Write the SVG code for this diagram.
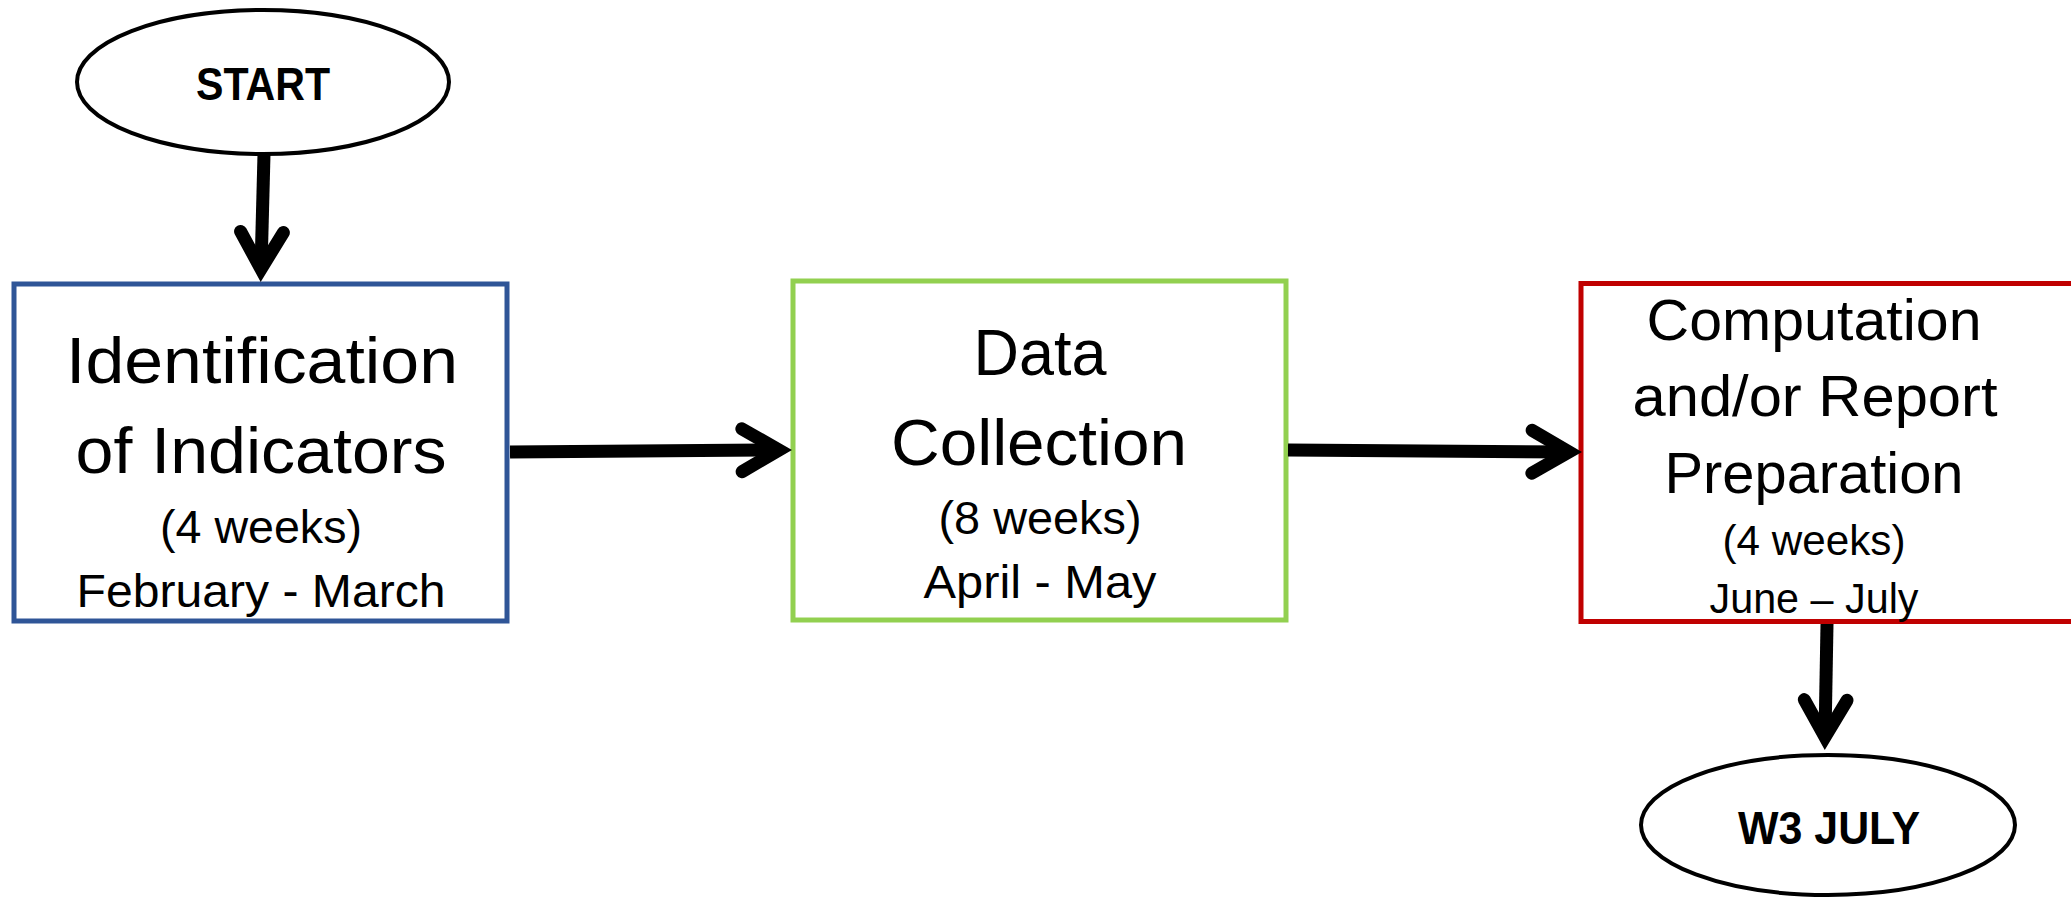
<svg xmlns="http://www.w3.org/2000/svg" width="2071" height="899" viewBox="0 0 2071 899">
<style>
.t{font-family:"Liberation Sans",Arial,sans-serif;fill:#000;text-anchor:middle}
.big{font-size:64px}
.sm{font-size:47px}
.big3{font-size:57px}
.sm3{font-size:42px}
.b{font-size:46px;font-weight:bold}
.term{fill:#fff;stroke:#000;stroke-width:4}
.box{fill:#fff;stroke-width:5}
.conn{fill:none;stroke:#000;stroke-width:13;stroke-linecap:butt}
</style>
<defs>
<marker id="chev" markerUnits="userSpaceOnUse" viewBox="-60 -30 90 60" refX="0" refY="0" markerWidth="90" markerHeight="60" orient="auto" overflow="visible">
<path d="M-37,-21.4 L0,0 L-37,21.4" fill="none" stroke="#000" stroke-width="13" stroke-linecap="round" stroke-linejoin="miter"/>
</marker>
</defs>
<rect width="2071" height="899" fill="#fff"/>
<g id="start">
<ellipse class="term" cx="263" cy="82" rx="186" ry="72"/>
<text class="t b" x="263" y="100" textLength="134" lengthAdjust="spacingAndGlyphs">START</text>
</g>
<g id="identification">
<rect class="box" x="14" y="284" width="493" height="337" stroke="#2F5597"/>
<text class="t big" x="262" y="383" textLength="392" lengthAdjust="spacingAndGlyphs">Identification</text>
<text class="t big" x="261" y="473" textLength="371" lengthAdjust="spacingAndGlyphs">of Indicators</text>
<text class="t sm" x="261" y="543" textLength="202" lengthAdjust="spacingAndGlyphs">(4 weeks)</text>
<text class="t sm" x="261" y="607" textLength="369" lengthAdjust="spacingAndGlyphs">February - March</text>
</g>
<g id="data-collection">
<rect class="box" x="793" y="281" width="493" height="339" stroke="#92D050"/>
<text class="t big" x="1040" y="375" textLength="133" lengthAdjust="spacingAndGlyphs">Data</text>
<text class="t big" x="1039" y="465" textLength="296" lengthAdjust="spacingAndGlyphs">Collection</text>
<text class="t sm" x="1040" y="534" textLength="203" lengthAdjust="spacingAndGlyphs">(8 weeks)</text>
<text class="t sm" x="1040" y="598" textLength="233" lengthAdjust="spacingAndGlyphs">April - May</text>
</g>
<g id="computation">
<rect class="box" x="1581" y="283.5" width="600" height="338" stroke="#C00000"/>
<text class="t big3" x="1814" y="340" textLength="335" lengthAdjust="spacingAndGlyphs">Computation</text>
<text class="t big3" x="1815" y="416" textLength="365" lengthAdjust="spacingAndGlyphs">and/or Report</text>
<text class="t big3" x="1814" y="493" textLength="299" lengthAdjust="spacingAndGlyphs">Preparation</text>
<text class="t sm3" x="1814" y="555" textLength="183" lengthAdjust="spacingAndGlyphs">(4 weeks)</text>
<text class="t sm3" x="1814" y="613" textLength="209" lengthAdjust="spacingAndGlyphs">June – July</text>
</g>
<g id="end">
<ellipse class="term" cx="1828" cy="825" rx="187" ry="70"/>
<text class="t b" x="1829" y="844" textLength="182" lengthAdjust="spacingAndGlyphs">W3 JULY</text>
</g>
<g id="connectors">
<path class="conn" d="M264,154 L261,269" marker-end="url(#chev)"/>
<path class="conn" d="M510,452 L779,450" marker-end="url(#chev)"/>
<path class="conn" d="M1288,450 L1569,452" marker-end="url(#chev)"/>
<path class="conn" d="M1827,624 L1825,737" marker-end="url(#chev)"/>
</g>
</svg>
